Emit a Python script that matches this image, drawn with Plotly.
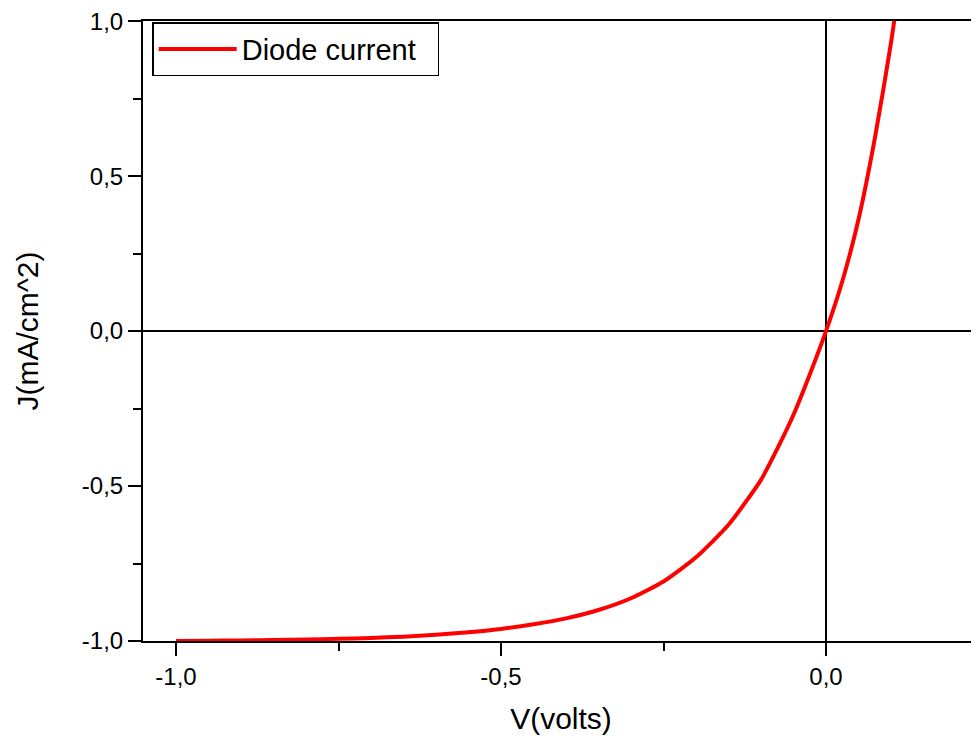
import plotly.graph_objects as go

# Data
voltage = [-1.0, -0.95, -0.9, -0.85, -0.8, -0.75, -0.7, -0.65, -0.6, -0.55, -0.5, -0.45,
           -0.4, -0.35, -0.3, -0.25, -0.2, -0.15, -0.1, -0.075, -0.05, -0.025, 0.0,
           0.025, 0.05, 0.075, 0.1, 0.125]
current = [-1.0, -0.999, -0.998, -0.997, -0.995, -0.993, -0.990, -0.986, -0.980, -0.972, -0.961, -0.946,
           -0.927, -0.900, -0.862, -0.808, -0.730, -0.625, -0.480, -0.380, -0.270, -0.140, 0.0,
           0.160, 0.360, 0.620, 0.930, 1.300]

x_tickvals = [-1.0, -0.5, 0.0]
x_ticktext = ["-1,0", "-0,5", "0,0"]
y_tickvals = [-1.0, -0.5, 0.0, 0.5, 1.0]
y_ticktext = ["-1,0", "-0,5", "0,0", "0,5", "1,0"]

FONT = "Liberation Sans, Arial, sans-serif"

fig = go.Figure()
fig.add_trace(go.Scatter(
    x=voltage, y=current, mode="lines", name="Diode current\u00a0\u00a0",
    line=dict(color="#ff0000", width=4, shape="spline", smoothing=0.6),
))

fig.update_layout(
    width=971, height=732,
    margin=dict(l=135, r=0, t=11, b=99),
    paper_bgcolor="white", plot_bgcolor="white",
    font=dict(family=FONT, color="black", size=24),
    showlegend=True,
    legend=dict(
        x=0.011, y=0.998, xanchor="left", yanchor="top",
        bgcolor="white", bordercolor="black", borderwidth=1.5,
        font=dict(family=FONT, size=29, color="black"),
        itemwidth=78,
    ),
    xaxis=dict(
        range=[-1.0508, 0.2354],
        tickvals=x_tickvals, ticktext=x_ticktext,
        ticks="outside", ticklen=13, tickwidth=2, tickcolor="black",
        minor=dict(dtick=0.25, tick0=0, ticks="outside", ticklen=8, tickwidth=2, tickcolor="black"),
        showline=True, linecolor="black", linewidth=2, mirror=True,
        showgrid=False,
        zeroline=True, zerolinecolor="black", zerolinewidth=2,
        title=dict(text="V(volts)", font=dict(family=FONT, size=30), standoff=19),
        tickfont=dict(family=FONT, size=24),
        ticklabeloverflow="allow",
    ),
    yaxis=dict(
        range=[-1.0, 1.0005],
        tickvals=y_tickvals, ticktext=y_ticktext,
        ticks="outside", ticklen=13, tickwidth=2, tickcolor="black",
        minor=dict(dtick=0.25, tick0=0, ticks="outside", ticklen=8, tickwidth=2, tickcolor="black"),
        showline=True, linecolor="black", linewidth=2, mirror=False,
        showgrid=False,
        zeroline=True, zerolinecolor="black", zerolinewidth=2,
        title=dict(text="J(mA/cm^2)", font=dict(family=FONT, size=30), standoff=34),
        tickfont=dict(family=FONT, size=24),
        ticklabeloverflow="allow",
    ),
)

fig.write_html("out.html")
